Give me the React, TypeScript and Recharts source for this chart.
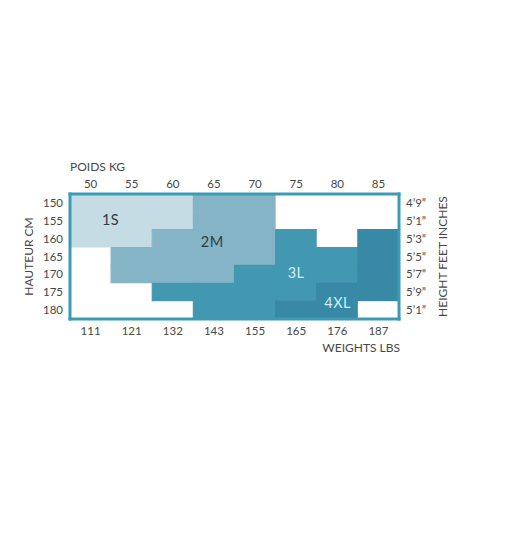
import React from "react";
import { ComposedChart, Bar, Line, XAxis, YAxis, Cell, LabelList, Label } from "recharts";

const weightsKg = [50, 55, 60, 65, 70, 75, 80, 85];
const weightsLbs = [111, 121, 132, 143, 155, 165, 176, 187];
const heightsCm = [150, 155, 160, 165, 170, 175, 180];
const heightsFtIn = ["4’9”", "5’1”", "5’3”", "5’5”", "5’7”", "5’9”", "5’1”"];

// size per cell, one row per height (top to bottom), one entry per weight column
const sizeRow150 = ["1S", "1S", "1S", "2M", "2M", "", "", ""];
const sizeRow155 = ["1S", "1S", "1S", "2M", "2M", "", "", ""];
const sizeRow160 = ["1S", "1S", "2M", "2M", "2M", "3L", "", "4XL"];
const sizeRow165 = ["", "2M", "2M", "2M", "2M", "3L", "3L", "4XL"];
const sizeRow170 = ["", "2M", "2M", "2M", "3L", "3L", "3L", "4XL"];
const sizeRow175 = ["", "", "3L", "3L", "3L", "3L", "4XL", "4XL"];
const sizeRow180 = ["", "", "", "3L", "3L", "4XL", "4XL", ""];
const sizeGrid = [sizeRow150, sizeRow155, sizeRow160, sizeRow165, sizeRow170, sizeRow175, sizeRow180];

// size name annotations, placed in (column, row) grid units
const sizeLabels = ["1S", "2M", "3L", "4XL"];
const sizeLabelCol = [0.99, 3.46, 5.5, 6.51];
const sizeLabelRow = [1.4, 2.67, 4.42, 6.1];

const sizeColors: Record<string, string> = {
  "1S": "#c5dce5",
  "2M": "#86b4c7",
  "3L": "#4298b1",
  "4XL": "#3889a6",
  "": "#ffffff",
};
const labelColors: Record<string, string> = {
  "1S": "#2f3d43",
  "2M": "#2f3d43",
  "3L": "#cdeff7",
  "4XL": "#cdeff7",
};

const data = weightsKg.map((kg, c) => {
  const row: Record<string, number | string> = { kg, lbs: weightsLbs[c] };
  heightsCm.forEach((_, r) => {
    row[`r${r}`] = 1;
  });
  return row;
});

const FONT = "Lato, 'Open Sans', sans-serif";
const TEXT = "#474747";
const BORDER = "#3a9bb5";
const tickStyle = { fill: TEXT, fontSize: 11.5, fontFamily: FONT };
const rowTicks = heightsCm.map((_, i) => i + 0.5);
const borderLine = { stroke: BORDER, strokeWidth: 3, strokeLinecap: "square" as const };

function makeSizeLabel(r: number) {
  return (p: any) => {
    const vb = p.viewBox && p.viewBox.width !== undefined ? p.viewBox : p;
    const idx = p.index;
    const out: React.ReactNode[] = [];
    sizeLabels.forEach((s, k) => {
      if (Math.floor(sizeLabelRow[k]) !== r || Math.floor(sizeLabelCol[k]) !== idx) return;
      const w = Math.abs(vb.width);
      const h = Math.abs(vb.height);
      const left = Math.min(vb.x, vb.x + vb.width);
      const top = Math.min(vb.y, vb.y + vb.height);
      const cx = left + (sizeLabelCol[k] - Math.floor(sizeLabelCol[k])) * w;
      const cy = top + (sizeLabelRow[k] - Math.floor(sizeLabelRow[k])) * h;
      out.push(
        <text
          key={s}
          x={cx}
          y={cy}
          textAnchor="middle"
          dominantBaseline="central"
          fill={labelColors[s]}
          fontSize={14.5}
          fontFamily={FONT}
          letterSpacing={0.5}
        >
          {s}
        </text>
      );
    });
    return <g>{out}</g>;
  };
}

export default function App() {
  return (
    <div style={{ width: 494, height: 541 }}>
      <ComposedChart
        width={494}
        height={541}
        data={data}
        barCategoryGap={0}
        margin={{ top: 156, right: 53, bottom: 200, left: 10 }}
      >
        {heightsCm.map((_, r) => (
          <Bar
            key={r}
            dataKey={`r${r}`}
            stackId="a"
            xAxisId="top"
            yAxisId="left"
            isAnimationActive={false}
          >
            {weightsKg.map((__, c) => {
              const s = sizeGrid[r][c];
              return (
                <Cell
                  key={c}
                  fill={sizeColors[s]}
                  stroke={s ? sizeColors[s] : "none"}
                  strokeWidth={1.2}
                />
              );
            })}
            <LabelList dataKey={`r${r}`} content={makeSizeLabel(r)} />
          </Bar>
        ))}
        <Line
          dataKey="r0"
          xAxisId="top"
          yAxisId="right"
          stroke="none"
          dot={false}
          activeDot={false}
          legendType="none"
          isAnimationActive={false}
        />
        <XAxis
          xAxisId="top"
          dataKey="kg"
          orientation="top"
          height={30}
          tickLine={false}
          tickSize={4}
          tickMargin={2}
          tick={tickStyle}
          interval={0}
          axisLine={borderLine}
        >
          <Label
            content={(p: any) => (
              <text
                x={p.viewBox.x}
                y={p.viewBox.y + 2.5}
                dominantBaseline="central"
                fill={TEXT}
                fontSize={12}
                fontFamily={FONT}
              >
                POIDS KG
              </text>
            )}
          />
        </XAxis>
        <XAxis
          xAxisId="bottom"
          dataKey="lbs"
          orientation="bottom"
          height={30}
          tickLine={false}
          tickSize={6}
          tickMargin={2}
          tick={tickStyle}
          interval={0}
          axisLine={borderLine}
        >
          <Label
            content={(p: any) => (
              <text
                x={p.viewBox.x + p.viewBox.width + 1}
                y={p.viewBox.y + 28}
                textAnchor="end"
                dominantBaseline="central"
                fill={TEXT}
                fontSize={12}
                fontFamily={FONT}
              >
                WEIGHTS LBS
              </text>
            )}
          />
        </XAxis>
        <YAxis
          yAxisId="left"
          type="number"
          domain={[0, 7]}
          allowDataOverflow
          reversed
          ticks={rowTicks}
          interval={0}
          width={52}
          tickLine={false}
          tickSize={4}
          tickMargin={3}
          tick={tickStyle}
          tickFormatter={(v: number) => String(heightsCm[Math.floor(v)])}
          axisLine={borderLine}
        >
          <Label
            content={(p: any) => {
              const cx = p.viewBox.x + 10;
              const cy = p.viewBox.y + p.viewBox.height / 2;
              return (
                <text
                  x={cx}
                  y={cy}
                  transform={`rotate(-90 ${cx} ${cy})`}
                  textAnchor="middle"
                  dominantBaseline="central"
                  fill={TEXT}
                  fontSize={12}
                  fontFamily={FONT}
                >
                  HAUTEUR CM
                </text>
              );
            }}
          />
        </YAxis>
        <YAxis
          yAxisId="right"
          orientation="right"
          type="number"
          domain={[0, 7]}
          allowDataOverflow
          reversed
          ticks={rowTicks}
          interval={0}
          width={50}
          tickLine={false}
          tickSize={4}
          tickMargin={3}
          tick={tickStyle}
          tickFormatter={(v: number) => heightsFtIn[Math.floor(v)]}
          axisLine={borderLine}
        >
          <Label
            content={(p: any) => {
              const cx = p.viewBox.x + 43;
              const cy = p.viewBox.y + p.viewBox.height / 2;
              return (
                <text
                  x={cx}
                  y={cy}
                  transform={`rotate(-90 ${cx} ${cy})`}
                  textAnchor="middle"
                  dominantBaseline="central"
                  fill={TEXT}
                  fontSize={12}
                  fontFamily={FONT}
                >
                  HEIGHT FEET INCHES
                </text>
              );
            }}
          />
        </YAxis>
      </ComposedChart>
    </div>
  );
}
